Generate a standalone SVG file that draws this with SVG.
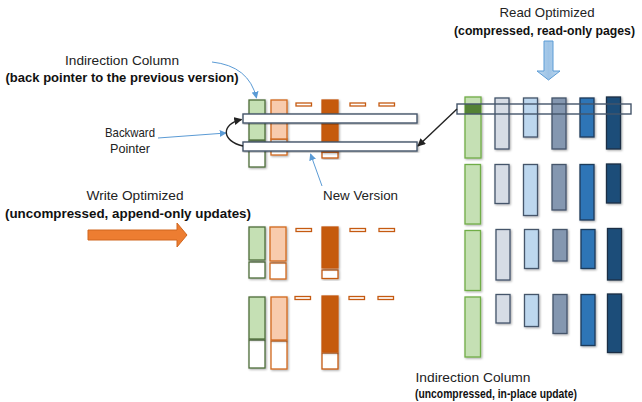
<svg xmlns="http://www.w3.org/2000/svg" width="642" height="402" viewBox="0 0 642 402">
<style>
text{font-family:"Liberation Sans",Arial,sans-serif;font-size:13.5px;fill:#222}
.b{font-weight:bold;fill:#111;font-size:13.5px}
.g{fill:#C5E0B4;stroke:#4E6E3A;stroke-width:1.3}
.gw{fill:#fff;stroke:#4E6E3A;stroke-width:1.3}
.p{fill:#F8CBAD;stroke:#D2691E;stroke-width:1.3}
.pw{fill:#fff;stroke:#D2691E;stroke-width:1.3}
.o{fill:#C55A11;stroke:#C55A11;stroke-width:1.3}
.d{fill:#fff;stroke:#C55A11;stroke-width:1.3}
.bar{fill:#fff;stroke:#44546A;stroke-width:1.4}
.rg{fill:#C5E0B4;stroke:#70AD47;stroke-width:1.3}
.c2{fill:#D6DCE5;stroke:#44546A;stroke-width:1.3}
.c3{fill:#BDD7EE;stroke:#44546A;stroke-width:1.3}
.c4{fill:#8497B0;stroke:#44546A;stroke-width:1.3}
.c5{fill:#2E75B6;stroke:#1F3A5A;stroke-width:1.3}
.c6{fill:#1F4E79;stroke:#1A2E45;stroke-width:1.3}
.sh{filter:url(#ds)}
.bl{fill:none;stroke:#5B9BD5;stroke-width:1}
.bk{fill:none;stroke:#222;stroke-width:1.4}
</style>
<defs>
<filter id="ds" x="-40%" y="-20%" width="180%" height="140%">
<feDropShadow dx="1" dy="1" stdDeviation="1" flood-color="#000" flood-opacity="0.35"/>
</filter>
<marker id="ab" viewBox="0 0 10 10" refX="9" refY="5" markerWidth="7" markerHeight="7" orient="auto-start-reverse" markerUnits="userSpaceOnUse"><path d="M0,0 L10,5 L0,10 z" fill="#5B9BD5"/></marker>
<marker id="ak" viewBox="0 0 10 10" refX="9" refY="5" markerWidth="8" markerHeight="8" orient="auto" markerUnits="userSpaceOnUse"><path d="M0,0 L10,5 L0,10 z" fill="#222"/></marker>
<linearGradient id="bg" x1="0" y1="0" x2="1" y2="0"><stop offset="0" stop-color="#BDD7EE"/><stop offset="0.5" stop-color="#9DC3E6"/><stop offset="1" stop-color="#BDD7EE"/></linearGradient>
</defs>
<rect width="642" height="402" fill="#fff"/>

<g id="labels">
<text x="122" y="65" text-anchor="middle" textLength="114" lengthAdjust="spacingAndGlyphs">Indirection Column</text>
<text class="b" x="122" y="82" text-anchor="middle" textLength="233" lengthAdjust="spacingAndGlyphs">(back pointer to the previous version)</text>
<text x="130" y="137" text-anchor="middle" textLength="50" lengthAdjust="spacingAndGlyphs">Backward</text>
<text x="130" y="153" text-anchor="middle" textLength="40" lengthAdjust="spacingAndGlyphs">Pointer</text>
<text x="135" y="200" text-anchor="middle" textLength="97" lengthAdjust="spacingAndGlyphs">Write Optimized</text>
<text class="b" x="128" y="218" text-anchor="middle" textLength="246" lengthAdjust="spacingAndGlyphs">(uncompressed, append-only updates)</text>
<text x="323" y="200" textLength="75" lengthAdjust="spacingAndGlyphs">New Version</text>
<text x="547" y="17" text-anchor="middle" textLength="95" lengthAdjust="spacingAndGlyphs">Read Optimized</text>
<text class="b" x="454" y="35" style="font-size:12.5px" textLength="181" lengthAdjust="spacingAndGlyphs">(compressed, read-only pages)</text>
<text x="473" y="382" text-anchor="middle" textLength="115" lengthAdjust="spacingAndGlyphs">Indirection Column</text>
<text class="b" x="496" y="398" text-anchor="middle" textLength="162" lengthAdjust="spacingAndGlyphs">(uncompressed, in-place update)</text>
</g>

<g id="write-arrow">
<path d="M88,230 H177 V223 L187,235 L177,247 V240 H88 Z" fill="#ED7D31" stroke="#D0661F" stroke-width="1"/>
</g>
<g id="read-arrow">
<path d="M544,41 H553 V71 H560 L548.5,80 L537,71 H544 Z" fill="url(#bg)" stroke="#5B9BD5" stroke-width="1"/>
</g>

<g id="version-1">
<rect class="gw sh" x="249" y="141" width="16" height="26"/>
<rect class="g sh" x="249" y="100" width="16" height="40"/>
<rect class="pw sh" x="271" y="139" width="16" height="16"/>
<rect class="p sh" x="271" y="100" width="16" height="39"/>
<rect class="d" x="296" y="103" width="15.5" height="3"/>
<rect class="d sh" x="322" y="152" width="16" height="6"/>
<rect class="o sh" x="322" y="100" width="16" height="52"/>
<rect class="d" x="350" y="103" width="15.5" height="3"/>
<rect class="d" x="379" y="103" width="15.5" height="3"/>
</g>
<g id="bar-old"><rect class="bar sh" x="243" y="114" width="174" height="9"/></g>
<g id="bar-new"><rect class="bar sh" x="243" y="142" width="174" height="9"/></g>

<g id="version-2">
<rect class="gw sh" x="249" y="262" width="16" height="16"/>
<rect class="g sh" x="249" y="227" width="16" height="33"/>
<rect class="pw sh" x="270" y="263" width="16" height="16"/>
<rect class="p sh" x="270" y="227" width="16" height="34"/>
<rect class="d" x="296" y="228.5" width="15.5" height="3"/>
<rect class="d sh" x="322" y="270" width="16" height="8.5"/>
<rect class="o sh" x="322" y="227" width="16" height="41"/>
<rect class="d" x="350" y="228.5" width="15.5" height="3"/>
<rect class="d" x="379" y="228.5" width="15.5" height="3"/>
</g>

<g id="version-3">
<rect class="gw sh" x="249" y="340" width="16" height="28"/>
<rect class="g sh" x="249" y="297" width="16" height="42"/>
<rect class="pw sh" x="271" y="341" width="16" height="28"/>
<rect class="p sh" x="271" y="297" width="16" height="43"/>
<rect class="d" x="295" y="296.5" width="15.5" height="3"/>
<rect class="d sh" x="322" y="353" width="16" height="16"/>
<rect class="o sh" x="322" y="296" width="16" height="56"/>
<rect class="d" x="349" y="296.5" width="15.5" height="3"/>
<rect class="d" x="378" y="296.5" width="15.5" height="3"/>
</g>

<g id="read-row-1">
<rect class="rg sh" x="465" y="97" width="16" height="61"/>
<rect x="465" y="104" width="16" height="10" fill="#548235"/>
<rect class="c2 sh" x="495" y="98" width="14" height="51"/>
<rect class="c3 sh" x="523.5" y="98" width="14" height="39"/>
<rect class="c4 sh" x="552" y="98" width="14" height="51"/>
<rect class="c5 sh" x="580" y="98" width="14" height="39"/>
<rect class="c6 sh" x="606.5" y="97" width="14" height="52"/>
</g>
<g id="read-bar"><rect x="457" y="104" width="174" height="10" fill="none" stroke="#44546A" stroke-width="1.4"/></g>

<g id="read-row-2">
<rect class="rg sh" x="465" y="164.5" width="15.5" height="59.5"/>
<rect class="c2 sh" x="495" y="164.5" width="14" height="39"/>
<rect class="c3 sh" x="523.5" y="164.5" width="14" height="51"/>
<rect class="c4 sh" x="552" y="164.5" width="14" height="45.5"/>
<rect class="c5 sh" x="580" y="164.5" width="14" height="55.5"/>
<rect class="c6 sh" x="606.5" y="164" width="14" height="39"/>
</g>
<g id="read-row-3">
<rect class="rg sh" x="465" y="230.5" width="15.5" height="60"/>
<rect class="c2 sh" x="496" y="229.5" width="14" height="50.5"/>
<rect class="c3 sh" x="524.5" y="229.5" width="14" height="39"/>
<rect class="c4 sh" x="553" y="229.5" width="14" height="31.5"/>
<rect class="c5 sh" x="581" y="229.5" width="14" height="39"/>
<rect class="c6 sh" x="607.5" y="228.5" width="14" height="51.5"/>
</g>
<g id="read-row-4">
<rect class="rg sh" x="465" y="297" width="15.5" height="60"/>
<rect class="c2 sh" x="496" y="294.5" width="14" height="28.5"/>
<rect class="c3 sh" x="524.5" y="294.5" width="14" height="32"/>
<rect class="c4 sh" x="553" y="294.5" width="14" height="39"/>
<rect class="c5 sh" x="581" y="294.5" width="14" height="51"/>
<rect class="c6 sh" x="607.5" y="294" width="14" height="58.5"/>
</g>

<g id="connectors">
<path class="bl" d="M212,62 Q249,66 256.5,98" marker-end="url(#ab)"/>
<path class="bl" d="M158,138 L226,133" marker-end="url(#ab)"/>
<path class="bl" d="M322,186 L310.5,154" marker-end="url(#ab)"/>
<path class="bk" d="M243,146 C221,141 221,124 241.5,119.5" marker-end="url(#ak)"/>
<path class="bk" d="M457,109 L418,146" marker-end="url(#ak)"/>
</g>
</svg>
